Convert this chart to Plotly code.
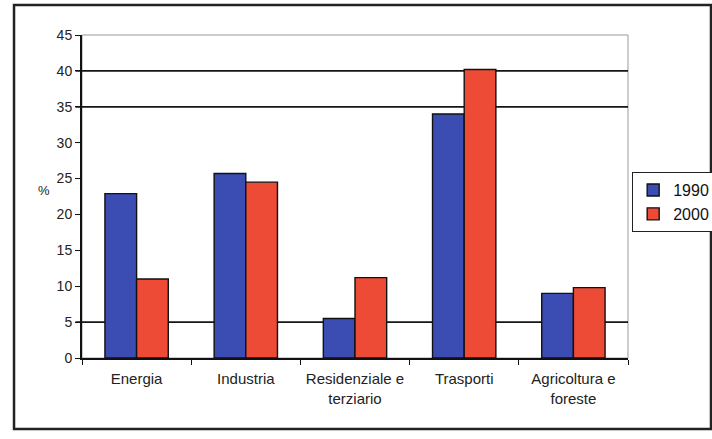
import plotly.graph_objects as go

categories = ["Energia", "Industria", "Residenziale e<br>terziario", "Trasporti", "Agricoltura e<br>foreste"]
series_names = ["1990", "2000"]
values_1990 = [22.9, 25.7, 5.5, 34.0, 9.0]
values_2000 = [11.0, 24.5, 11.2, 40.2, 9.8]
y_ticks = [0, 5, 10, 15, 20, 25, 30, 35, 40, 45]
visible_grid = [5, 35, 40]

colors = ["#3b4db3", "#ee4b36"]
font = "Liberation Sans, Arial, sans-serif"

fig = go.Figure()
for name, vals, col in zip(series_names, [values_1990, values_2000], colors):
    fig.add_trace(go.Bar(
        x=categories, y=vals, name=name,
        marker=dict(color=col, line=dict(color="#111111", width=1.4)),
    ))

shapes = []
# plot area border (thin gray)
shapes.append(dict(type="rect", xref="paper", yref="paper", x0=0, x1=1, y0=0, y1=1,
                   line=dict(color="#9a9a9a", width=1), layer="below"))
for g in visible_grid:
    shapes.append(dict(type="line", xref="paper", yref="y", x0=-0.012, x1=1, y0=g, y1=g,
                       line=dict(color="#151515", width=1.8), layer="below"))
# outer chart frame
shapes.append(dict(type="rect", xref="paper", yref="paper", x0=-0.1245, x1=1.152, y0=-0.22, y1=1.093,
                   line=dict(color="#222222", width=2.5), layer="above"))

fig.update_layout(
    width=712, height=439,
    margin=dict(l=82, r=84, t=35, b=81, autoexpand=False),
    paper_bgcolor="white", plot_bgcolor="white",
    barmode="group", bargap=0.42, bargroupgap=0,
    font=dict(family=font, color="#222222", size=14),
    shapes=shapes,
    showlegend=True,
    legend=dict(x=1.0073, y=0.576, xanchor="left", yanchor="top",
                bordercolor="#222222", borderwidth=1.2, bgcolor="white",
                font=dict(size=16, family=font, color="#111111"),
                itemwidth=30, tracegroupgap=2),
    annotations=[dict(text="%", xref="paper", yref="paper", x=-0.085, y=0.52,
                      showarrow=False, font=dict(size=13, family=font, color="#222222"))],
    xaxis=dict(showline=True, linecolor="#111111", linewidth=2,
               ticks="outside", tickson="boundaries", ticklen=5, tickcolor="#111111",
               ticklabelstandoff=6,
               tickfont=dict(size=15, family=font, color="#222222"), showgrid=False),
    yaxis=dict(range=[0, 45], tickvals=y_ticks, showline=True, linecolor="#111111", linewidth=2,
               ticks="outside", ticklen=5, tickcolor="#111111", showgrid=False, zeroline=False,
               tickfont=dict(size=14, family=font, color="#222222")),
)

fig.write_html("out.html")
